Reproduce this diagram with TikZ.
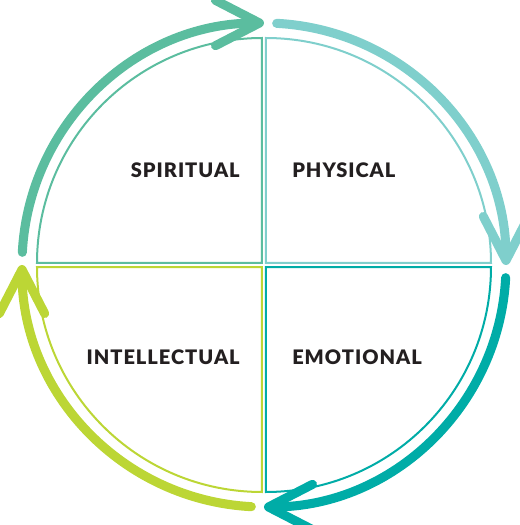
\documentclass[tikz,border=0pt]{standalone}
\usepackage{fontspec}
\setmainfont{Lato}[BoldFont={Lato Black}]
\usetikzlibrary{arrows.meta}
\definecolor{spirit}{HTML}{5BBD9F}
\definecolor{phys}{HTML}{7FCFCC}
\definecolor{emot}{HTML}{00ACA7}
\definecolor{intel}{HTML}{BCD635}
\definecolor{ink}{HTML}{231F20}
\tikzset{quarter/.style={line width=1.5pt},cyc/.style={line width=6.8pt,line cap=round,-{Straight Barb[length=33pt,width=34pt,line cap=round,round]}}}
\tikzset{lbl/.style={inner sep=0pt,text=ink,font=\fontsize{15}{17}\selectfont\bfseries\addfontfeature{LetterSpace=5}}}

\begin{document}
\begin{tikzpicture}[x=0.75pt,y=0.75pt]
\useasboundingbox (-264,-260) rectangle (256,265);
% quarters
\draw[quarter,spirit] (-2,2) -- (-227,2) arc (180:90:225) -- cycle;
\draw[quarter,phys] (2,2) -- (2,227) arc (90:0:225) -- cycle;
\draw[quarter,emot] (2,-2) -- (227,-2) arc (0:-90:225) -- cycle;
\draw[quarter,intel] (-2,-2) -- (-2,-227) arc (-90:-180:225) -- cycle;
% cycle arrows
\draw[cyc,spirit] (177:242) arc (177:90:242);
\draw[cyc,phys] (87:242) arc (87:0:242);
\draw[cyc,emot] (-3:242) arc (-3:-90:242);
\draw[cyc,intel] (-93:242) arc (-93:-180:242);
% labels
\node[lbl,anchor=east] (spiritual) at (-24,95) {SPIRITUAL};
\node[lbl,anchor=west] (physical) at (28,95) {PHYSICAL};
\node[lbl,anchor=east] (intellectual) at (-24,-92) {INTELLECTUAL};
\node[lbl,anchor=west] (emotional) at (28,-92) {EMOTIONAL};
\end{tikzpicture}
\end{document}
